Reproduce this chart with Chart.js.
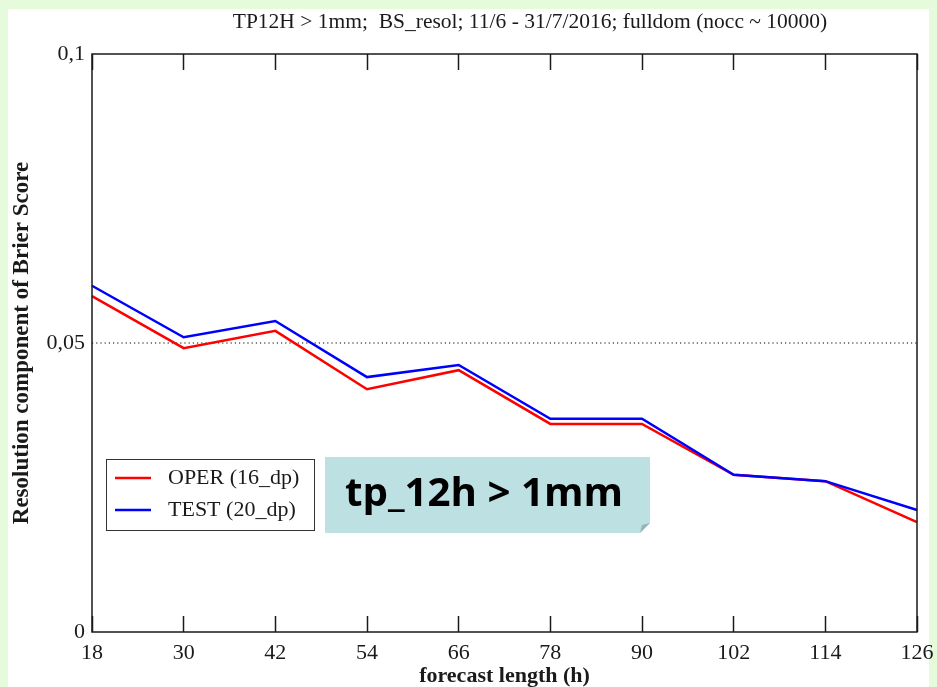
<!DOCTYPE html>
<html>
<head>
<meta charset="utf-8">
<script src="https://cdn.jsdelivr.net/npm/chart.js@4/dist/chart.umd.min.js"></script>
<style>
  html, body { margin: 0; padding: 0; background: #e6fbdc; }
  canvas { display: block; }
</style>
</head>
<body>
<canvas id="bsChart" width="937" height="687"></canvas>
<script>
/* ---------- DATA ---------- */
const forecastHours = ["18", "30", "42", "54", "66", "78", "90", "102", "114", "126"];
const operValues = [0.0581, 0.0491, 0.0521, 0.0420, 0.0453, 0.0360, 0.0360, 0.0272, 0.0261, 0.0190];
const testValues = [0.0599, 0.0510, 0.0538, 0.0441, 0.0462, 0.0369, 0.0369, 0.0272, 0.0261, 0.0211];
const refLevel = 0.05;
const refValues = forecastHours.map(() => refLevel);

const titleText = "TP12H > 1mm;  BS_resol; 11/6 - 31/7/2016; fulldom (nocc ~ 10000)";
const yTitle = "Resolution component of Brier Score";
const xTitle = "forecast length (h)";
const noteText = "tp_12h > 1mm";

const serif = "'Liberation Serif', 'Times New Roman', serif";
const ink = "#1a1a1a";

/* ---------- PLUGINS ---------- */
const pagePlugin = {
  id: "page",
  beforeDraw(chart) {
    const ctx = chart.ctx;
    ctx.save();
    ctx.fillStyle = "#e6fbdc";
    ctx.fillRect(0, 0, chart.width, chart.height);
    ctx.fillStyle = "#ffffff";
    ctx.fillRect(8, 9, chart.width - 16, chart.height - 9);

    // title, a bit right of canvas centre like the original plot
    ctx.fillStyle = ink;
    ctx.font = "21.5px " + serif;
    ctx.textAlign = "center";
    ctx.textBaseline = "middle";
    ctx.fillText(titleText, 530, 22);
    ctx.restore();
  },
  afterDraw(chart) {
    const ctx = chart.ctx;
    const a = chart.chartArea;
    ctx.save();

    // plot frame
    ctx.strokeStyle = ink;
    ctx.lineWidth = 1.5;
    ctx.strokeRect(a.left, a.top, a.right - a.left, a.bottom - a.top);

    // legend box
    const lx = a.left + 14, ly = 459, lw = 208, lh = 71;
    ctx.fillStyle = "#ffffff";
    ctx.fillRect(lx, ly, lw, lh);
    ctx.lineWidth = 1;
    ctx.strokeStyle = "#333";
    ctx.strokeRect(lx + 0.5, ly + 0.5, lw, lh);
    const entries = [chart.data.datasets[0], chart.data.datasets[1]];
    entries.forEach((ds, i) => {
      const y = ly + 19 + i * 32;
      ctx.strokeStyle = ds.borderColor;
      ctx.lineWidth = 2.5;
      ctx.beginPath();
      ctx.moveTo(lx + 9, y);
      ctx.lineTo(lx + 45, y);
      ctx.stroke();
      ctx.fillStyle = ink;
      ctx.font = "22px " + serif;
      ctx.textBaseline = "middle";
      ctx.textAlign = "left";
      ctx.fillText(ds.label, lx + 62, y);
    });

    // note box with folded corner
    const nx = 325, ny = 457, nw = 325, nh = 76, f = 10;
    ctx.fillStyle = "#bde0e3";
    ctx.beginPath();
    ctx.moveTo(nx, ny);
    ctx.lineTo(nx + nw, ny);
    ctx.lineTo(nx + nw, ny + nh - f);
    ctx.lineTo(nx + nw - f, ny + nh);
    ctx.lineTo(nx, ny + nh);
    ctx.closePath();
    ctx.fill();
    ctx.fillStyle = "#97b4b7";
    ctx.beginPath();
    ctx.moveTo(nx + nw, ny + nh - f);
    ctx.lineTo(nx + nw - f, ny + nh);
    ctx.lineTo(nx + nw - f + 2, ny + nh - f + 2);
    ctx.closePath();
    ctx.fill();
    ctx.fillStyle = "#000";
    ctx.font = "bold 40px 'Open Sans', 'Noto Sans', sans-serif";
    ctx.textBaseline = "alphabetic";
    ctx.textAlign = "left";
    const w = ctx.measureText(noteText).width;
    ctx.translate(nx + 20, ny + 49);
    ctx.scale(278 / w, 1);
    ctx.fillText(noteText, 0, 0);

    ctx.restore();
  }
};

function noSidePadding(s) {
  s.paddingLeft = 0;
  s.paddingRight = 0;
}

/* ---------- CHART ---------- */
new Chart(document.getElementById("bsChart"), {
  type: "line",
  data: {
    labels: forecastHours,
    datasets: [
      {
        label: "OPER (16_dp)",
        data: operValues,
        borderColor: "#ff0000",
        borderWidth: 2.5,
        pointRadius: 0,
        tension: 0,
        order: 1
      },
      {
        label: "TEST (20_dp)",
        data: testValues,
        borderColor: "#0000ff",
        borderWidth: 2.5,
        pointRadius: 0,
        tension: 0,
        order: 0
      },
      {
        label: "ref",
        data: refValues,
        borderColor: "#000",
        borderWidth: 1.2,
        borderDash: [1.2, 3],
        pointRadius: 0,
        order: 2
      }
    ]
  },
  options: {
    responsive: false,
    animation: false,
    layout: { padding: { left: 0, right: 20, top: 54, bottom: 0 } },
    plugins: {
      legend: { display: false },
      tooltip: { enabled: false },
      title: { display: false }
    },
    scales: {
      x: {
        type: "category",
        position: "bottom",
        offset: false,
        border: { display: false },
        grid: {
          drawOnChartArea: false,
          drawTicks: true,
          tickLength: -16,
          tickColor: ink,
          tickWidth: 1.5
        },
        ticks: {
          color: ink,
          font: { family: serif, size: 22 },
          padding: 24,
          maxRotation: 0,
          autoSkip: false
        },
        title: {
          display: true,
          text: xTitle,
          color: ink,
          font: { family: serif, size: 22, weight: "bold", lineHeight: 1 },
          padding: 0
        },
        afterFit(s) { s.height = 55; noSidePadding(s); }
      },
      xTop: {
        type: "category",
        position: "top",
        labels: forecastHours,
        offset: false,
        border: { display: false },
        grid: {
          drawOnChartArea: false,
          drawTicks: true,
          tickLength: -16,
          tickColor: ink,
          tickWidth: 1.5
        },
        ticks: { display: false },
        afterFit(s) { s.height = 0; noSidePadding(s); }
      },
      y: {
        min: 0,
        max: 0.1,
        border: { display: false },
        grid: { display: false, drawTicks: false },
        ticks: {
          stepSize: 0.05,
          color: ink,
          font: { family: serif, size: 22 },
          padding: 7,
          callback: v => String(+Number(v).toFixed(2)).replace(".", ",")
        },
        title: {
          display: true,
          text: yTitle,
          color: ink,
          font: { family: serif, size: 23, weight: "bold", lineHeight: 1 },
          padding: { top: 11, bottom: 0 }
        },
        afterFit(s) { s.width = 92; }
      }
    }
  },
  plugins: [pagePlugin]
});
</script>
</body>
</html>
